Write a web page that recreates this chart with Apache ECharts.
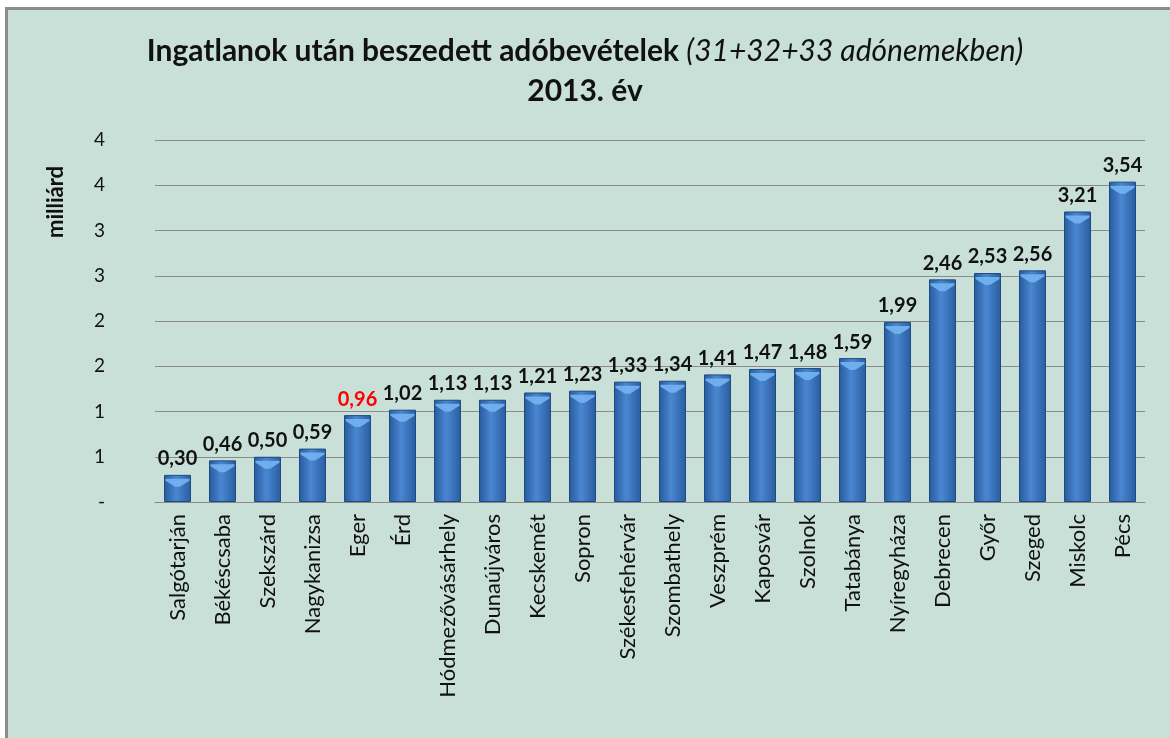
<!DOCTYPE html>
<html>
<head>
<meta charset="utf-8">
<script src="https://cdn.jsdelivr.net/npm/echarts@6/dist/echarts.min.js"></script>
<style>
  html, body { margin: 0; padding: 0; background: #ffffff; overflow: hidden; }
  #frame {
    position: absolute; left: 5px; top: 7px; right: 0; bottom: 0;
    border-top: 3px solid #8c8c8c; border-left: 3px solid #8c8c8c; background: #c9e0d8;
  }
  #chart { position: absolute; left: 0; top: 0; width: 1170px; height: 738px; }
</style>
</head>
<body>
<div id="frame"></div>
<div id="chart"></div>
<script>
// kategóriák (városok) és értékek, milliárd Ft
var cities = ['Salgótarján', 'Békéscsaba', 'Szekszárd', 'Nagykanizsa', 'Eger', 'Érd',
    'Hódmezővásárhely', 'Dunaújváros', 'Kecskemét', 'Sopron', 'Székesfehérvár',
    'Szombathely', 'Veszprém', 'Kaposvár', 'Szolnok', 'Tatabánya', 'Nyíregyháza',
    'Debrecen', 'Győr', 'Szeged', 'Miskolc', 'Pécs'];
var values = [0.30, 0.46, 0.50, 0.59, 0.96, 1.02, 1.13, 1.13, 1.21, 1.23, 1.33,
    1.34, 1.41, 1.47, 1.48, 1.59, 1.99, 2.46, 2.53, 2.56, 3.21, 3.54];
var highlighted = ['Eger'];

var chart = echarts.init(document.getElementById('chart'));

var barData = [];
for (var i = 0; i < values.length; i++) {
    var item = { value: values[i] };
    if (highlighted.indexOf(cities[i]) >= 0) {
        item.label = { color: '#ff0000' };
    }
    barData.push(item);
}

var option = {
    backgroundColor: 'transparent',
    textStyle: { fontFamily: 'Lato' },
    title: {
        text: '{b|Ingatlanok után beszedett adóbevételek }{i|(31+32+33 adónemekben)}\n{b|2013. év}',
        left: 'center',
        top: 26,
        textStyle: {
            fontWeight: 'normal',
            rich: {
                b: { fontSize: 30, fontWeight: 'bold', color: '#111', fontFamily: 'Lato', lineHeight: 40 },
                i: { fontSize: 30, fontStyle: 'italic', fontWeight: 'normal', color: '#111', fontFamily: 'Lato', lineHeight: 40 }
            }
        }
    },
    graphic: [
        {
            type: 'text',
            x: 56,
            y: 238,
            rotation: Math.PI / 2,
            style: {
                text: 'milliárd',
                fontSize: 22,
                fontWeight: 'bold',
                fontFamily: 'Lato',
                fill: '#111',
                align: 'left',
                verticalAlign: 'middle'
            }
        }
    ],
    grid: {
        left: 155,
        right: 25,
        top: 140,
        bottom: 236
    },
    xAxis: {
        type: 'category',
        data: cities,
        axisLine: { lineStyle: { color: '#8a8a8a', width: 1 } },
        axisTick: { show: false },
        axisLabel: {
            rotate: 90,
            interval: 0,
            color: '#111',
            fontSize: 22,
            fontFamily: 'Lato',
            margin: 12
        }
    },
    yAxis: {
        type: 'value',
        min: 0,
        max: 4,
        interval: 0.5,
        axisLine: { show: false },
        axisTick: { show: false },
        axisLabel: {
            color: '#111',
            fontSize: 19,
            margin: 50,
            formatter: function (v) {
                return v === 0 ? '-' : String(Math.round(v));
            }
        },
        splitLine: { lineStyle: { color: '#8a8a8a', width: 1 } }
    },
    series: [
        {
            type: 'bar',
            data: barData,
            barWidth: '60%',
            barGap: '-100%',
            z: 2,
            itemStyle: {
                color: new echarts.graphic.LinearGradient(0, 0, 1, 0, [
                    { offset: 0, color: '#275a9c' },
                    { offset: 0.45, color: '#4a87d2' },
                    { offset: 1, color: '#2a5c9f' }
                ]),
                borderColor: '#1f4a80',
                borderWidth: 1
            },
            label: {
                show: true,
                position: 'top',
                distance: 6,
                fontSize: 20,
                fontWeight: 'bold',
                fontFamily: 'Lato',
                color: '#111',
                formatter: function (p) {
                    return p.value.toFixed(2).replace('.', ',');
                }
            }
        },
        {
            // világos "fazetta" a hasábok tetején
            type: 'pictorialBar',
            data: values,
            barWidth: '60%',
            barGap: '-100%',
            z: 3,
            silent: true,
            symbol: 'path://M0,0 L20,0 L20,2 L12,8 L8,8 L0,2 Z',
            symbolSize: [24, 8],
            symbolPosition: 'end',
            symbolOffset: [0, '50%'],
            itemStyle: { color: '#74b4f2', opacity: 0.9 }
        }
    ]
};
chart.setOption(option);
</script>
</body>
</html>
